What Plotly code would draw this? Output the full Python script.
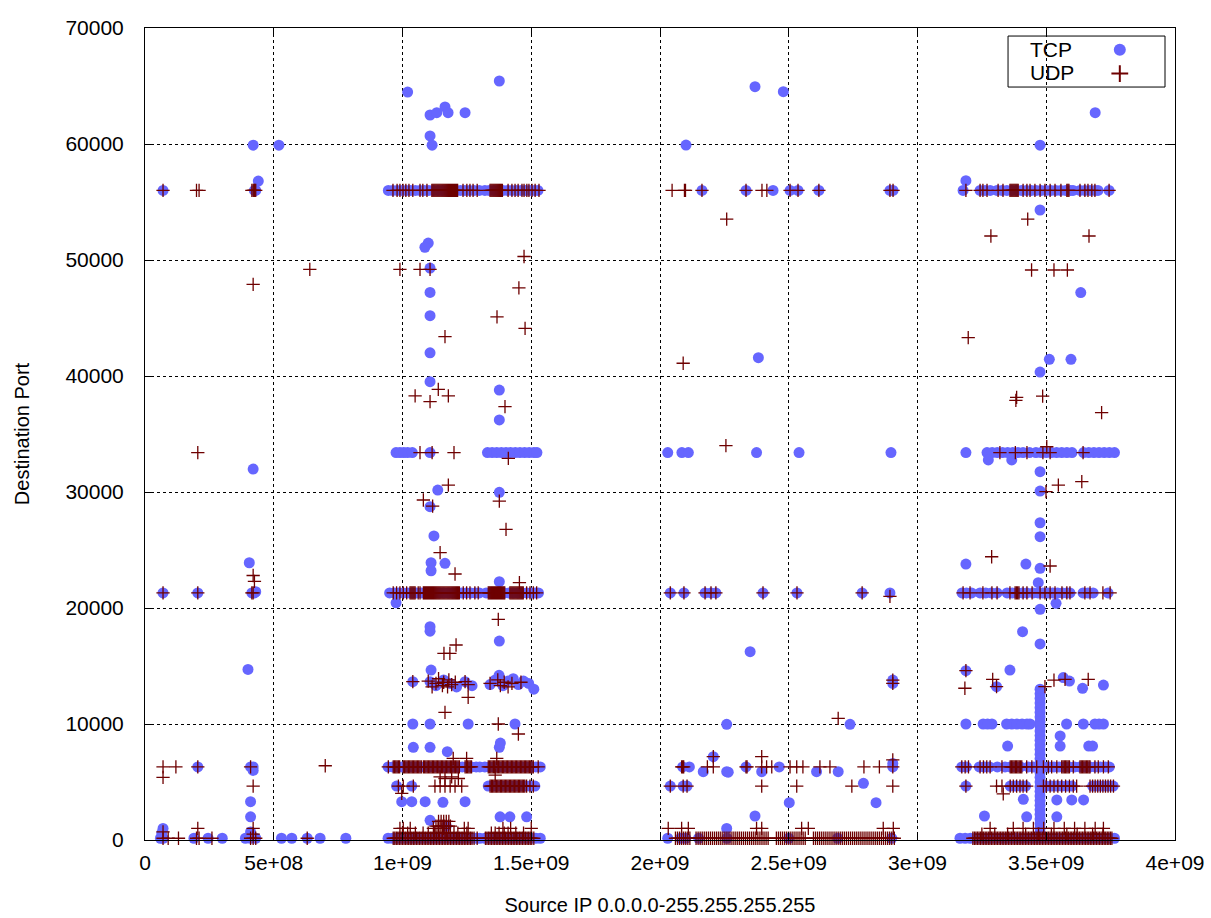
import plotly.graph_objects as go

# ---------------- data ----------------
# x values are the source IP as a 32-bit integer, given in millions; y = destination port
SCALE_X = 1e6

PORT_56K = 56000
PORT_33K = 33400
PORT_21K = 21300
PORT_6K = 6300
PORT_47 = 4650
PORT_1K = 1000
PORT_0 = 150

tcp_56k_x = [70, 425, 430,
             945, 962, 980, 998, 1015, 1032, 1050, 1068, 1085, 1102, 1120, 1138, 1155, 1172, 1190, 1208, 1225, 1242, 1260, 1278, 1298,
             1320, 1337, 1355, 1372, 1390, 1408, 1425, 1443, 1460, 1478, 1495, 1512, 1526,
             2163, 2334, 2439, 2505, 2536, 2617, 2893, 2905,
             3177, 3243, 3262, 3282, 3309, 3328, 3347, 3366, 3385, 3404, 3423, 3442, 3461, 3480, 3499, 3518, 3537, 3556,
             3575, 3594, 3604, 3631, 3650, 3670, 3689, 3701, 3744]
udp_56k_x = [70, 200, 210, 415, 420, 423, 426, 430,
             963, 979, 990, 1002, 1013, 1025, 1040, 1068, 1079, 1095,
             1114, 1118, 1122, 1126, 1130, 1134, 1138, 1142, 1146, 1150, 1154, 1158, 1162, 1166, 1170, 1174, 1178, 1182,
             1186, 1190, 1194, 1198, 1202, 1206, 1210, 1214,
             1235, 1250, 1262, 1274, 1290,
             1340, 1344, 1348, 1352, 1356, 1360, 1364, 1368, 1372, 1376, 1380, 1384, 1388,
             1410, 1425, 1437, 1449, 1464, 1472, 1483, 1491, 1503, 1515, 1530,
             2047, 2095, 2099, 2163, 2334, 2396, 2415, 2505, 2536, 2617, 2893, 2905,
             3188, 3243, 3254, 3270, 3313, 3332, 3359, 3363, 3367, 3371, 3375, 3379, 3383, 3387, 3391, 3410, 3425, 3437,
             3456, 3476, 3495, 3515, 3534, 3557, 3580, 3584, 3588, 3631, 3650, 3662, 3677, 3689, 3744]

tcp_33k_x = [975, 990, 1005, 1020, 1038, 1107,
             1330, 1348, 1366, 1384, 1402, 1420, 1438, 1456, 1474, 1492, 1510, 1522,
             2030, 2085, 2110, 2375, 2540, 2897,
             3188, 3270, 3290, 3310, 3330, 3350, 3370, 3390, 3410, 3435, 3460, 3480, 3500, 3520, 3540, 3560, 3580, 3600,
             3645, 3665, 3685, 3705, 3725, 3745, 3765]
udp_33k_x = [205, 1068, 1115, 1200, 3320, 3380, 3425, 3487, 3515, 3643]

tcp_21k_x = [70, 205, 415, 425,
             950, 968, 985, 1003, 1020, 1038, 1055, 1073, 1090, 1108, 1125, 1143, 1160, 1178, 1195, 1213, 1230, 1248, 1265, 1283, 1298,
             1325, 1343, 1360, 1378, 1395, 1413, 1430, 1448, 1465, 1483, 1500, 1515, 1528,
             2040, 2093, 2175, 2198, 2217, 2400, 2532, 2785, 2893,
             3173, 3190, 3210, 3243, 3265, 3287, 3309, 3348, 3368, 3388, 3408, 3425, 3449, 3468, 3487, 3506, 3525, 3544,
             3563, 3580, 3592, 3643, 3662, 3682, 3740]
udp_21k_x = [70, 205, 415, 420,
             964, 977, 990, 1003, 1016, 1029, 1033, 1037, 1041, 1045, 1049, 1061, 1068,
             1081, 1085, 1089, 1093, 1097, 1101, 1105, 1109, 1113, 1117, 1121, 1125, 1129, 1133, 1137, 1141, 1145, 1149,
             1153, 1157, 1161, 1165, 1169, 1173, 1177, 1181, 1185, 1189, 1193, 1197, 1201, 1205, 1209, 1213, 1217, 1221,
             1236, 1249, 1262, 1281, 1294,
             1333, 1337, 1341, 1345, 1349, 1353, 1357, 1361, 1365, 1369, 1373, 1377, 1381, 1385, 1389, 1393, 1397,
             1417, 1421, 1425, 1429, 1433, 1437, 1441, 1445, 1449, 1453, 1457, 1461, 1465, 1469,
             1482, 1495, 1508, 1521,
             2040, 2093, 2175, 2198, 2217, 2400, 2532, 2785,
             3177, 3204, 3254, 3289, 3309, 3359, 3379, 3384, 3389, 3394, 3410, 3425, 3445, 3476, 3495, 3515, 3534, 3561,
             3580, 3592, 3650, 3670, 3720, 3748]

tcp_6k_x = [205, 410, 420,
            944, 962, 980, 998, 1016, 1034, 1052, 1070, 1088, 1106, 1124, 1142, 1160, 1178, 1196, 1214, 1232, 1250, 1268, 1286, 1300,
            1320, 1338, 1356, 1374, 1392, 1410, 1428, 1446, 1464, 1482, 1500, 1518, 1535,
            2088, 2114, 2334, 2463, 2904,
            3172, 3190, 3240, 3260, 3280, 3310, 3340, 3360, 3380, 3400, 3430, 3450, 3470, 3490, 3510, 3530, 3550, 3570,
            3590, 3610, 3630, 3650, 3670, 3690, 3710, 3730, 3745]
udp_6k_x = [70, 120, 205, 410,
            945, 964, 969, 974, 979, 984, 989,
            1003, 1008, 1013, 1018, 1023, 1028, 1033, 1038, 1043, 1048, 1053, 1058, 1063, 1068, 1073,
            1081, 1086, 1091, 1096, 1101, 1106, 1111, 1116, 1121, 1126, 1131, 1136, 1141, 1146, 1151, 1156, 1161, 1166,
            1171, 1176, 1181, 1186, 1191, 1196, 1201, 1206, 1211, 1216, 1221,
            1243, 1248, 1253, 1258, 1263, 1268,
            1333, 1338, 1343, 1348, 1353, 1358, 1363, 1368, 1373, 1378, 1383, 1388, 1393, 1398, 1403, 1408, 1413, 1418,
            1423, 1428, 1433, 1438, 1443, 1448, 1453, 1458, 1463, 1468, 1473, 1478, 1483, 1488, 1493, 1498, 1503, 1508, 1527,
            2084, 2088, 2092, 2184, 2207, 2334, 2338, 2395, 2414, 2434, 2505, 2531, 2555, 2621, 2660, 2792, 2852, 2904,
            3172, 3185, 3198, 3243, 3256, 3269, 3282, 3328, 3360, 3365, 3370, 3375, 3380, 3385, 3390, 3395, 3400, 3405,
            3424, 3444, 3463, 3489, 3508, 3521, 3541, 3560, 3565, 3570, 3575, 3580, 3585, 3590, 3605, 3631, 3636, 3641,
            3646, 3651, 3656, 3661, 3666, 3670, 3689, 3702, 3722, 3741]

tcp_47_x = [977, 1036, 1333, 1350, 1368, 1386, 1404, 1422, 1440, 1458, 1476, 1494, 1514,
            2040, 2090, 2105,
            3188, 3360, 3380, 3400, 3420, 3500, 3520, 3540, 3560, 3580, 3600, 3680, 3700, 3720, 3740, 3760]
udp_47_x = [420, 984, 1003, 1042, 1126, 1146, 1165, 1185, 1204, 1230,
            1340, 1345, 1350, 1355, 1360, 1365, 1370, 1375, 1380, 1385, 1390, 1395, 1400, 1405, 1410, 1415, 1420, 1425,
            1430, 1435, 1440, 1445, 1450, 1455, 1460, 1465, 1470, 1475, 1482, 1495, 1508,
            2040, 2090, 2105, 2395, 2531, 2745, 2904,
            3188, 3307, 3328, 3360, 3372, 3385, 3398, 3410, 3424, 3489, 3500, 3515, 3530, 3545, 3560, 3575, 3590, 3605,
            3618, 3670, 3680, 3690, 3700, 3710, 3720, 3730, 3740, 3750, 3761]

udp_1k_x = [205, 420, 990, 1003, 1030, 1120, 1160, 1240, 1255, 1390, 1420, 1500,
            2032, 2084, 2110, 2375, 2395, 2550, 2576, 2867, 2906,
            3282, 3372, 3410, 3450, 3490, 3530, 3570, 3610, 3650, 3690, 3722]

tcp_0_x = [60, 70, 190, 245, 300, 390, 410, 430, 530, 570, 630, 680, 780,
           944, 962, 980, 998, 1016, 1034, 1052, 1070, 1088, 1106, 1124, 1142, 1160, 1178, 1196, 1214, 1232, 1250, 1268, 1286, 1300,
           1320, 1338, 1356, 1374, 1392, 1410, 1428, 1446, 1464, 1482, 1500, 1518, 1535,
           2030, 2080, 2100, 2150, 2260, 2500, 2690, 2900,
           3165, 3185, 3205, 3225, 3245, 3265, 3285, 3305, 3325, 3345, 3365, 3385, 3405, 3425, 3445, 3465, 3485, 3505,
           3525, 3545, 3565, 3585, 3605, 3625, 3645, 3665, 3685, 3705, 3725, 3745, 3765]
udp_0_x = [70, 90, 130, 200, 210, 260, 410, 420, 430, 630,
           964, 970, 976, 982, 988, 994, 1000, 1006, 1012, 1018, 1024, 1030, 1036, 1042, 1048, 1054, 1060, 1066, 1072,
           1078, 1084, 1090, 1096, 1102, 1108, 1114, 1120, 1126, 1132, 1138, 1144, 1150, 1156, 1162, 1168, 1174, 1180,
           1186, 1192, 1198, 1204, 1210, 1216, 1222, 1228, 1234, 1240, 1246, 1252, 1258, 1264, 1270, 1278, 1290,
           1322, 1328, 1334, 1340, 1346, 1352, 1358, 1364, 1370, 1376, 1382, 1388, 1394, 1400, 1406, 1412, 1418, 1424,
           1430, 1436, 1442, 1448, 1454, 1460, 1466, 1472, 1478, 1484, 1490, 1496, 1502, 1510,
           2060, 2068, 2076, 2084, 2092, 2100, 2108, 2116, 2140, 2148, 2156, 2164, 2172, 2180, 2188, 2196, 2204, 2212,
           2220, 2228, 2236, 2244, 2252, 2260, 2268, 2276, 2284, 2292, 2300, 2308, 2316, 2324, 2332, 2340, 2348, 2356,
           2364, 2372, 2380, 2388, 2396, 2404, 2412, 2420, 2452, 2460, 2468, 2476, 2484, 2492, 2500, 2508, 2516, 2524,
           2532, 2540, 2548, 2556, 2564, 2596, 2604, 2612, 2620, 2628, 2636, 2644, 2652, 2660, 2668, 2676, 2684, 2692,
           2700, 2708, 2716, 2724, 2732, 2740, 2748, 2756, 2764, 2772, 2780, 2788, 2796, 2804, 2812, 2820, 2828, 2836,
           2844, 2852, 2860, 2868, 2876, 2884, 2892, 2900, 2910,
           3215, 3221, 3227, 3233, 3239, 3245, 3251, 3257, 3263, 3269, 3275, 3281, 3287, 3293, 3299, 3305, 3311, 3317,
           3323, 3329, 3335, 3341, 3347, 3353, 3359, 3365, 3371, 3377, 3383, 3389, 3395, 3401, 3407, 3413, 3419, 3425,
           3431, 3437, 3443, 3449, 3455, 3461, 3467, 3473, 3479, 3485, 3491, 3497, 3503, 3509, 3515, 3521, 3527, 3533,
           3539, 3545, 3551, 3557, 3563, 3569, 3575, 3581, 3587, 3593, 3599, 3605, 3611, 3617, 3623, 3629, 3635, 3641,
           3647, 3653, 3659, 3665, 3671, 3677, 3683, 3689, 3695, 3701, 3707, 3713, 3719, 3725, 3731, 3737, 3743, 3749, 3755]

# tall column of TCP points at one source address
tcp_col_x = 3476
tcp_col_y = [13000, 12600, 12200, 11800, 11400, 11000, 10600, 10200, 9800, 9400, 9000, 8600, 8200, 7800, 7400,
             7000, 6600, 6200, 5800, 5400, 5000, 4600, 4200, 3800, 3400, 3000, 2600, 2200, 1800, 1400, 1000, 600]

# low UDP points stacked above the bottom band
udp_low_x = [1000, 1020, 1050, 1080, 1100, 1125, 1140, 1155, 1170, 1185, 1200, 1215, 1250, 1345, 1360, 1375, 1395, 1410, 1440, 1470,
             1130, 1138, 1146, 1154, 1162, 1170, 1178, 1186, 1140, 1150, 1160, 1170, 1180,
             3250, 3300, 3350, 3420, 3470, 3520, 3580, 3620, 3680, 3720]
udp_low_y = [600, 600, 600, 600, 600, 600, 600, 600, 600, 600, 600, 600, 600, 600, 600, 600, 600, 600, 600, 600,
             1200, 1200, 1200, 1200, 1200, 1200, 1200, 1200, 1600, 1600, 1600, 1600, 1600,
             500, 500, 500, 500, 500, 500, 500, 500, 500, 500]

# scattered TCP points
tcp_other_x = [440, 420, 520, 420, 405, 430, 400, 420, 410, 410, 410, 70, 65,
               1020, 1376, 1107, 1133, 1165, 1177, 1243, 1107, 1115, 1100, 1087, 1107, 1107, 1107, 1107, 1107, 1376, 1376,
               1137, 1376, 1107, 1122, 1111, 1111, 1165, 1376, 975, 1107, 1107, 1376, 1111,
               1040, 1107, 1130, 1160, 1185, 1210, 1243, 1270, 1340, 1360, 1375, 1390, 1410, 1430, 1450, 1470, 1490, 1510,
               1040, 1107, 1255, 1437, 1042, 1107, 1174, 1376, 1380, 997, 1036, 1088, 1157, 1243, 1379, 1417, 1482, 1107, 1170,
               2369, 2479, 2101, 2382, 2350, 2904, 2904, 2259, 2738, 2207, 2168, 2259, 2265, 2395, 2608, 2692, 2790, 2502,
               2839, 2369, 2259, 2904,
               3188, 3476, 3634, 3512, 3596, 3476, 3476, 3690, 3275, 3366, 3476, 3476, 3476, 3476, 3188, 3421, 3476, 3469,
               3538, 3476, 3408, 3476, 3188, 3359, 3307, 3566, 3590, 3641, 3722,
               3188, 3255, 3272, 3289, 3346, 3366, 3386, 3406, 3425, 3437, 3579, 3644, 3689, 3705, 3722,
               3554, 3554, 3350, 3665, 3680, 3411, 3541, 3599, 3645, 3260, 3424, 3541]
tcp_other_y = [56800, 59900, 59900, 31980, 23900, 21400, 14700, 6000, 3300, 2000, 700, 1000, 600,
               64480, 65430, 62500, 62700, 63200, 62700, 62700, 60700, 59900, 51460, 51100, 49300, 47200, 45200, 42000, 39510, 38790, 36210,
               30170, 29970, 28730, 26210, 23900, 23210, 23850, 22270, 20450, 18390, 18000, 17150, 14650,
               13650, 13650, 13300, 13800, 13500, 13200, 13650, 13300, 13400, 13800, 14200, 13300, 13700, 13900, 13400, 13700, 13500, 13000,
               10000, 10000, 10000, 10000, 7990, 7990, 7610, 7990, 8360, 3300, 3300, 3300, 3250, 3300, 2000, 2000, 2000, 1700, 1200,
               64940, 64510, 59910, 41580, 16230, 13790, 13500, 9970, 9970, 7180, 5890, 5890, 5850, 5890, 5890, 5890, 4890, 3220,
               3220, 2070, 1000, 6600,
               56840, 54310, 47190, 41440, 41440, 40340, 59900, 62700, 32760, 32760, 31750, 30080, 27350, 26150, 23790, 23790, 23420, 22180,
               20400, 19890, 17960, 16900, 14600, 14650, 13220, 14000, 13700, 13080, 13360,
               10000, 10000, 10000, 10000, 10000, 10000, 10000, 10000, 10000, 10000, 10000, 10000, 10000, 10000, 10000,
               8970, 8100, 8100, 8100, 8100, 3510, 3450, 3450, 3450, 2070, 2000, 2000]

# scattered UDP points
udp_other_x = [420, 425, 420, 640, 700, 70, 70, 420,
               990, 1068, 1107, 1165, 1472, 1452, 1367, 1476, 1139, 1049, 1107, 1178, 1398, 1411, 1178, 1081, 1117, 1376,
               1402, 1146, 1204, 1454, 1372, 1161, 1184, 1208,
               1040, 1100, 1115, 1130, 1140, 1155, 1160, 1175, 1180, 1191, 1205, 1243, 1255, 1340, 1370, 1380, 1395, 1410, 1425, 1460,
               1255, 1165, 1372, 1450, 1197, 1249, 1366, 1146, 1165, 1191, 1217, 1360, 997,
               2259, 2090, 2256, 2893, 2904, 2904, 2692, 2207, 2395, 2904,
               3428, 3285, 3666, 3443, 3530, 3582, 3197, 3385, 3382, 3486, 3715, 3502, 3547, 3638, 3499, 3288, 3515, 3188,
               3184, 3292, 3307, 3495, 3530, 3573, 3663, 3333]
udp_other_y = [47900, 22300, 22800, 49200, 6400, 5400, 700, 500,
               49200, 49200, 49200, 43400, 50300, 47600, 45100, 44100, 38850, 38280, 37790, 38280, 37360, 32900, 30600, 29310, 28790, 29220,
               26780, 24770, 22930, 22180, 19020, 16090, 16090, 16810,
               13650, 13700, 13200, 13500, 13900, 13300, 13600, 13200, 13800, 13400, 13600, 13650, 13400, 13500, 13800, 13300, 13600, 13200, 13500, 13600,
               12300, 11000, 10000, 9140, 7040, 7040, 7040, 5450, 5300, 5450, 5300, 5600, 4020,
               53530, 41100, 34000, 21000, 13790, 13500, 10490, 7180, 7180, 6900,
               53530, 52070, 52070, 49140, 49140, 49140, 43300, 38160, 37900, 38270, 36840, 33900, 30600, 30890, 30030, 24420, 23620, 14600,
               13080, 13850, 13220, 13220, 13790, 13850, 13850, 3970]

x_tick_vals = [0, 5e8, 1e9, 1.5e9, 2e9, 2.5e9, 3e9, 3.5e9, 4e9]
x_tick_text = ["0", "5e+08", "1e+09", "1.5e+09", "2e+09", "2.5e+09", "3e+09", "3.5e+09", "4e+09"]
y_tick_vals = [0, 10000, 20000, 30000, 40000, 50000, 60000, 70000]
series_names = ["TCP", "UDP"]

# ---------------- assemble series ----------------
tcp_xm = (tcp_56k_x + tcp_33k_x + tcp_21k_x + tcp_6k_x + tcp_47_x + tcp_0_x
          + [tcp_col_x] * len(tcp_col_y) + tcp_other_x)
tcp_y = ([PORT_56K] * len(tcp_56k_x) + [PORT_33K] * len(tcp_33k_x) + [PORT_21K] * len(tcp_21k_x)
         + [PORT_6K] * len(tcp_6k_x) + [PORT_47] * len(tcp_47_x) + [PORT_0] * len(tcp_0_x)
         + tcp_col_y + tcp_other_y)
udp_xm = (udp_56k_x + udp_33k_x + udp_21k_x + udp_6k_x + udp_47_x + udp_1k_x + udp_0_x
          + udp_low_x + udp_other_x)
udp_y = ([PORT_56K] * len(udp_56k_x) + [PORT_33K] * len(udp_33k_x) + [PORT_21K] * len(udp_21k_x)
         + [PORT_6K] * len(udp_6k_x) + [PORT_47] * len(udp_47_x) + [PORT_1K] * len(udp_1k_x)
         + [PORT_0] * len(udp_0_x) + udp_low_y + udp_other_y)

tcp_x = [v * SCALE_X for v in tcp_xm]
udp_x = [v * SCALE_X for v in udp_xm]

FONT = "Liberation Sans, Arial, sans-serif"
TCP_COLOR = "#6666ff"
UDP_COLOR = "#6e0000"

fig = go.Figure()
# legend entries carry only the symbol; the gnuplot-style key text is drawn to their left
fig.add_trace(go.Scatter(
    x=tcp_x, y=tcp_y, mode="markers", name=" ", cliponaxis=False,
    hovertext=series_names[0],
    marker=dict(symbol="circle", size=11, color=TCP_COLOR, line=dict(width=0)),
))
fig.add_trace(go.Scatter(
    x=udp_x, y=udp_y, mode="markers", name="  ", cliponaxis=False,
    hovertext=series_names[1],
    marker=dict(symbol="cross-thin", size=9.5, color=UDP_COLOR, line=dict(width=1.3, color=UDP_COLOR)),
))

axis_common = dict(
    showline=True, linecolor="black", linewidth=1, mirror="ticks",
    ticks="inside", ticklen=8, tickcolor="black", tickwidth=1,
    showgrid=True, gridcolor="black", gridwidth=1, griddash="dot",
    zeroline=False, tickfont=dict(family=FONT, size=21, color="black"),
    automargin=False,
)

# key box and key labels (paper coordinates)
KEY_X0, KEY_X1, KEY_Y0, KEY_Y1 = 0.8379, 0.9903, 0.9273, 0.9901
fig.add_shape(type="rect", xref="paper", yref="paper", x0=KEY_X0, x1=KEY_X1, y0=KEY_Y0, y1=KEY_Y1,
              fillcolor="white", line=dict(color="black", width=1), layer="between")
fig.add_annotation(text=series_names[0], xref="paper", yref="paper", x=0.8573, y=0.9741,
                   xanchor="left", yanchor="middle", showarrow=False,
                   font=dict(family=FONT, size=21, color="black"))
fig.add_annotation(text=series_names[1], xref="paper", yref="paper", x=0.8573, y=0.9458,
                   xanchor="left", yanchor="middle", showarrow=False,
                   font=dict(family=FONT, size=21, color="black"))

fig.update_layout(
    width=1211, height=918,
    margin=dict(l=145, r=36, t=28, b=78),
    paper_bgcolor="white", plot_bgcolor="white",
    font=dict(family=FONT, color="black"),
    showlegend=True,
    legend=dict(
        x=0.927, y=0.994, xanchor="left", yanchor="top",
        borderwidth=0, bgcolor="rgba(0,0,0,0)",
        font=dict(family=FONT, size=16, color="black"),
        itemsizing="constant", tracegroupgap=0,
    ),
)
fig.update_xaxes(
    range=[0, 4e9], tickvals=x_tick_vals, ticktext=x_tick_text,
    ticklabelstandoff=4,
    title=dict(text="Source IP 0.0.0.0-255.255.255.255", font=dict(family=FONT, size=20), standoff=24),
    **axis_common,
)
fig.update_yaxes(
    range=[0, 70000], tickvals=y_tick_vals, tickformat="d",
    ticklabelstandoff=16,
    title=dict(text="Destination Port", font=dict(family=FONT, size=20), standoff=30),
    **axis_common,
)

fig.write_html("out.html")
